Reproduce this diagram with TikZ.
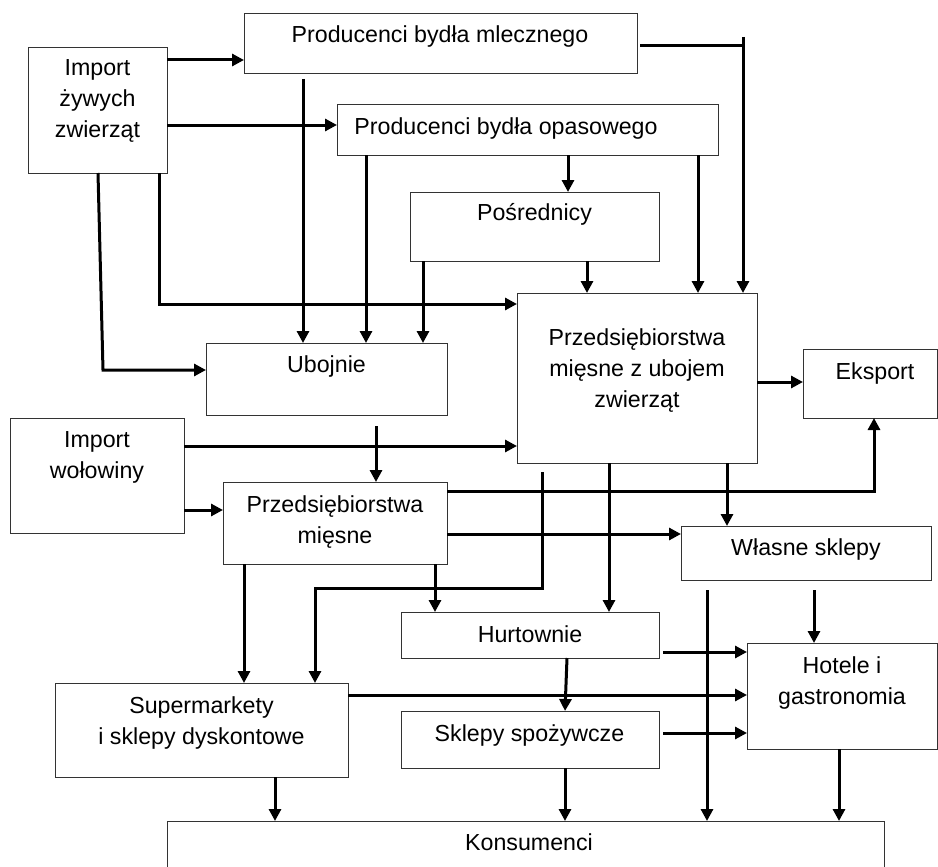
\documentclass[tikz,border=0pt]{standalone}
\usepackage{fontspec}
\setmainfont{Liberation Sans}
\usetikzlibrary{arrows.meta,calc}
\newcommand\fsz{\fontsize{23.2}{31}\selectfont}
\newcommand\mlines[1]{\begin{tabular}[t]{@{}c@{}}#1\end{tabular}}
\begin{document}
\begin{tikzpicture}[x=1pt,y=-1pt,
  box/.style={draw=black!80, line width=0.9pt, anchor=north west, inner sep=0, outer sep=0},
  txt/.style={inner sep=0, outer sep=0, anchor=base, font=\fsz},
  ln/.style={line width=3pt, black},
  arr/.style={ln, -{Triangle[length=12pt,width=12pt]}},
]
\useasboundingbox (0,0) rectangle (938,867);
\fill[white] (0,0) rectangle (938,867);
\clip (0,0) rectangle (938,867);

% boxes
\node[box, minimum width=139pt, minimum height=126pt] (imp) at (28,47) {};
\node[box, minimum width=393pt, minimum height=60pt] (pm) at (244,13) {};
\node[box, minimum width=381pt, minimum height=51pt] (po) at (337,104) {};
\node[box, minimum width=249pt, minimum height=69pt] (pos) at (410,192) {};
\node[box, minimum width=240pt, minimum height=170pt] (pmu) at (517,293) {};
\node[box, minimum width=241pt, minimum height=72pt] (ub) at (206,343) {};
\node[box, minimum width=134pt, minimum height=69pt] (eks) at (803,349) {};
\node[box, minimum width=174pt, minimum height=115pt] (iw) at (10,418) {};
\node[box, minimum width=224pt, minimum height=82pt] (pms) at (223,482) {};
\node[box, minimum width=250pt, minimum height=54pt] (ws) at (681,526) {};
\node[box, minimum width=258pt, minimum height=46pt] (hur) at (401,612) {};
\node[box, minimum width=190pt, minimum height=106pt] (hot) at (747,643) {};
\node[box, minimum width=293pt, minimum height=94pt] (sup) at (55,683) {};
\node[box, minimum width=258pt, minimum height=57pt] (ssp) at (401,711) {};
\node[box, minimum width=717pt, minimum height=80pt] (kon) at (167,821) {};

% texts
\node[txt] (imp-t) at (97.5,76) {\mlines{Import\\żywych\\zwierząt}};
\node[txt] (pm-t) at (440,43) {Producenci bydła mlecznego};
\node[txt] (po-t) at (506,135) {Producenci bydła opasowego};
\node[txt] (pos-t) at (534.5,220) {Pośrednicy};
\node[txt] (pmu-t) at (637,345) {\mlines{Przedsiębiorstwa\\mięsne z ubojem\\zwierząt}};
\node[txt] (ub-t) at (326.5,372) {Ubojnie};
\node[txt] (eks-t) at (875,379) {Eksport};
\node[txt] (iw-t) at (97,447) {\mlines{Import\\wołowiny}};
\node[txt] (pms-t) at (335,512) {\mlines{Przedsiębiorstwa\\mięsne}};
\node[txt] (ws-t) at (806,555) {Własne sklepy};
\node[txt] (hur-t) at (530,642) {Hurtownie};
\node[txt] (hot-t) at (842,673) {\mlines{Hotele i\\gastronomia}};
\node[txt] (sup-t) at (201.5,713) {\mlines{Supermarkety\\i sklepy dyskontowe}};
\node[txt] (ssp-t) at (529.5,741) {Sklepy spożywcze};
\node[txt] (kon-t) at (529,850) {Konsumenci};

% connectors
\draw[arr] ([yshift=-13pt]imp.north east) coordinate (c1) -- (c1 -| pm.west);
\draw[arr] ([yshift=-78pt]imp.north east) coordinate (c2) -- (c2 -| po.west);
\coordinate (k3) at (103,370);
\draw[arr] ([xshift=70pt]imp.south west) -- (k3) -- (k3 -| ub.west);
\coordinate (k4) at (159,304);
\draw[arr] (k4 |- imp.south) -- (k4) -- (k4 -| pmu.west);
\draw[arr] ([xshift=59pt,yshift=-6pt]pm.south west) coordinate (c5) -- (c5 |- ub.north);
\draw[arr] ([xshift=29pt]po.south west) coordinate (c6) -- (c6 |- ub.north);
\draw[arr] ([xshift=13pt]pos.south west) coordinate (c7) -- (c7 |- ub.north);
\draw[arr] ([xshift=231pt]po.south west) coordinate (c8) -- (c8 |- pos.north);
\draw[arr] ([xshift=177pt]pos.south west) coordinate (c9) -- (c9 |- pmu.north);
\draw[arr] ([xshift=361pt]po.south west) coordinate (c10) -- (c10 |- pmu.north);
\coordinate (k11) at (743,37);
\draw[ln] ([xshift=3pt,yshift=-33pt]pm.north east) coordinate (c11) -- (c11 -| k11);
\draw[arr] (k11) -- (k11 |- pmu.north);
\draw[arr] ([yshift=-28pt]iw.north east) coordinate (c12) -- (c12 -| pmu.west);
\draw[arr] ([xshift=170pt,yshift=-11pt]ub.south west) coordinate (c13) -- (c13 |- pms.north);
\draw[arr] ([yshift=-92pt]iw.north east) coordinate (c14) -- (c14 -| pms.west);
\draw[arr] ([yshift=-89pt]pmu.north east) coordinate (c15) -- (c15 -| eks.west);
\coordinate (k16) at (874,491);
\draw[arr] (k16 -| pms.east) -- (k16) -- (k16 |- eks.south);
\draw[arr] ([yshift=-52pt]pms.north east) coordinate (c17) -- (c17 -| ws.west);
\draw[arr] ([xshift=210pt]pmu.south west) coordinate (c18) -- (c18 |- ws.north);
\coordinate (s19) at ([xshift=25pt,yshift=-9pt]pmu.south west);
\coordinate (k19) at (315,588);
\draw[arr] (s19) -- (s19 |- k19) -- (k19) -- (k19 |- sup.north);
\draw[arr] ([xshift=92pt]pmu.south west) coordinate (c20) -- (c20 |- hur.north);
\draw[arr] ([xshift=212pt]pms.south west) coordinate (c21) -- (c21 |- hur.north);
\draw[arr] ([xshift=21pt]pms.south west) coordinate (c22) -- (c22 |- sup.north);
\draw[arr] ([xshift=26pt,yshift=-10pt]ws.south west) coordinate (c23) -- (c23 |- kon.north);
\draw[arr] ([xshift=133pt,yshift=-10pt]ws.south west) coordinate (c24) -- (c24 |- hot.north);
\draw[arr] ([xshift=4pt,yshift=-40pt]hur.north east) coordinate (c25) -- (c25 -| hot.west);
\draw[arr] ([xshift=166pt]hur.south west) -- ([xshift=164pt]ssp.north west);
\draw[arr] ([yshift=-12pt]sup.north east) coordinate (c27) -- (c27 -| hot.west);
\draw[arr] ([xshift=4pt,yshift=-22pt]ssp.north east) coordinate (c28) -- (c28 -| hot.west);
\draw[arr] ([xshift=164pt]ssp.south west) coordinate (c29) -- (c29 |- kon.north);
\draw[arr] ([xshift=92pt]hot.south west) coordinate (c30) -- (c30 |- kon.north);
\draw[arr] ([xshift=220pt]sup.south west) coordinate (c31) -- (c31 |- kon.north);
\end{tikzpicture}
\end{document}
